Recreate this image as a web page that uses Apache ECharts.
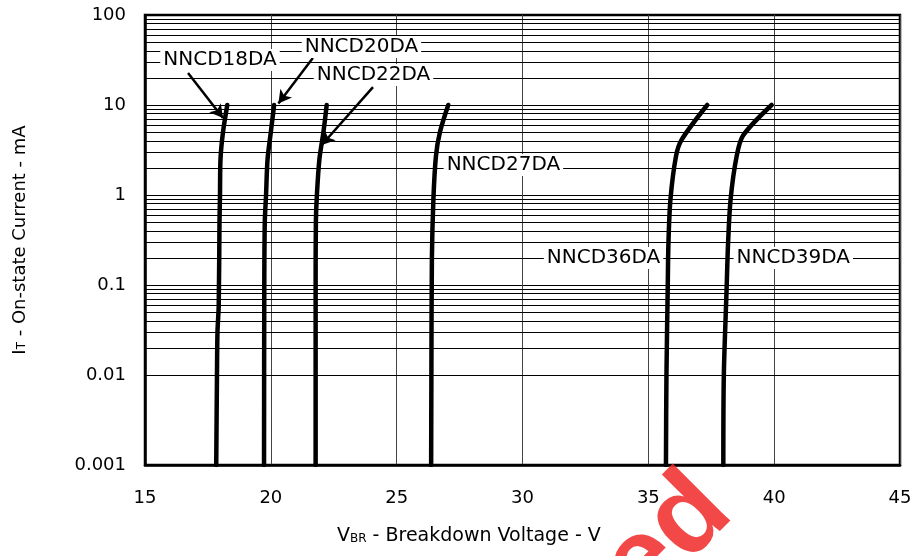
<!DOCTYPE html>
<html>
<head>
<meta charset="utf-8">
<script src="https://cdn.jsdelivr.net/npm/echarts@6/dist/echarts.min.js"></script>
<style>
  html, body { margin: 0; background: #fff; }
  #main { width: 916px; height: 556px; }
</style>
</head>
<body>
<div id="main"></div>
<script>
// breakdown curves, each point is [V, mA]
const nncd18 = [[17.83, 0.001], [17.86, 0.01], [17.88, 0.03], [17.93, 0.06], [17.96, 0.5], [17.98, 1], [18.0, 2.5], [18.1, 5], [18.27, 10]]
const nncd20 = [[19.73, 0.001], [19.74, 0.1], [19.76, 0.5], [19.81, 1], [19.87, 2.5], [20.0, 5], [20.13, 10]]
const nncd22 = [[21.78, 0.001], [21.78, 0.1], [21.79, 0.5], [21.83, 1], [21.93, 2.5], [22.09, 5], [22.22, 10]]
const nncd27 = [[26.37, 0.001], [26.38, 0.01], [26.4, 0.2], [26.46, 0.9], [26.56, 2.7], [26.72, 5], [27.05, 10]]
const nncd36 = [[35.7, 0.001], [35.72, 0.01], [35.77, 0.09], [35.8, 0.3], [35.88, 0.9], [36.1, 2.7], [36.32, 4.1], [37.34, 10]]
const nncd39 = [[37.98, 0.001], [38.0, 0.01], [38.11, 0.09], [38.17, 0.3], [38.27, 0.9], [38.51, 2.7], [38.77, 4.6], [39.9, 10]]

const partNames = ['NNCD18DA', 'NNCD20DA', 'NNCD22DA', 'NNCD27DA', 'NNCD36DA', 'NNCD39DA']
const curves = [nncd18, nncd20, nncd22, nncd27, nncd36, nncd39]

// where the part names sit, in chart units [V, mA]
const labelAt = [[17.98, 31.6], [23.6, 44], [24.08, 21.5], [29.24, 2.15], [33.22, 0.2], [40.76, 0.2]]
// arrows from a name to its curve: [from, to]
const arrows = [
    [[16.71, 22.7], [18.1, 7.17]],
    [[21.67, 33.3], [20.3, 10.4]],
    [[24.06, 15.8], [22.02, 3.59]]
]

const yTickLabels = ['0.001', '0.01', '0.1', '1', '10', '100']
const xTicks = { min: 15, max: 45, step: 5 }

// minor log grid lines 2..9 of each decade
let minorLines = []
for (let d = -3; d < 2; d++) {
    for (let k = 2; k <= 9; k++) minorLines.push({ yAxis: k * Math.pow(10, d) })
}

const font = 'DejaVu Sans'

var myChart = echarts.init(document.getElementById('main'))

let series = curves.map((c, i) => ({
    name: partNames[i],
    type: 'line',
    data: c,
    showSymbol: false,
    smooth: 0.3,
    z: 4,
    lineStyle: { color: '#000', width: 4.5, cap: 'round' }
}))

series.push({
    name: 'minor',
    type: 'line',
    data: [],
    silent: true,
    markLine: {
        silent: true,
        symbol: 'none',
        label: { show: false },
        lineStyle: { color: '#000', width: 1, type: 'solid' },
        emphasis: { disabled: true },
        data: minorLines
    }
})

series.push({
    name: 'names',
    type: 'scatter',
    symbolSize: 1,
    itemStyle: { color: 'rgba(0,0,0,0)', opacity: 1 },
    z: 5,
    data: labelAt.map((p, i) => ({ value: p, name: partNames[i] })),
    label: {
        show: true,
        position: 'inside',
        formatter: p => p.name,
        color: '#000',
        opacity: 1,
        textBorderWidth: 0,
        fontFamily: font,
        fontSize: 20,
        backgroundColor: '#fff',
        padding: [1, 3]
    },
    markLine: {
        silent: true,
        symbol: ['none', 'arrow'],
        symbolSize: [11, 13],
        label: { show: false },
        lineStyle: { color: '#000', width: 2.5, type: 'solid', opacity: 1 },
        data: arrows.map(a => [{ coord: a[0] }, { coord: a[1] }])
    }
})

var option = {
    animation: false,
    backgroundColor: '#fff',
    grid: {
        left: 145, right: 16, top: 15, bottom: 91,
        show: true, borderColor: '#000', borderWidth: 2.5
    },
    xAxis: {
        type: 'value',
        min: xTicks.min, max: xTicks.max, interval: xTicks.step,
        axisLine: { lineStyle: { color: '#000', width: 2.5 } },
        axisTick: { show: false },
        axisLabel: { color: '#000', fontFamily: font, fontSize: 18, margin: 24 },
        splitLine: { lineStyle: { color: '#444', width: 1 } }
    },
    yAxis: {
        type: 'log',
        logBase: 10,
        min: 0.001, max: 100,
        axisLine: { lineStyle: { color: '#000', width: 2.5 } },
        axisTick: { show: false },
        axisLabel: {
            color: '#000', fontFamily: font, fontSize: 18, margin: 19,
            formatter: v => yTickLabels[Math.round(Math.log10(v)) + 3]
        },
        splitLine: { lineStyle: { color: '#000', width: 1 } },
        name: '{m|I}{s|T}{m| - On-state Current - mA}',
        nameLocation: 'middle',
        nameGap: 116,
        nameTextStyle: {
            rich: {
                m: { fontFamily: font, fontSize: 18, color: '#000' },
                s: { fontFamily: font, fontSize: 12, color: '#000', verticalAlign: 'bottom', padding: [0, 0, 1, 0] }
            }
        }
    },
    graphic: [
        {
            type: 'text',
            left: 337,
            top: 527,
            style: {
                text: '{m|V}{s|BR}{m| - Breakdown Voltage - V}',
                rich: {
                    m: { fontFamily: font, fontSize: 19, fill: '#000' },
                    s: { fontFamily: font, fontSize: 12, fill: '#000', verticalAlign: 'bottom', padding: [0, 0, 1, 0] }
                }
            }
        },
        {
            type: 'text',
            x: 735, y: 526,
            rotation: Math.PI / 4,
            z: 100,
            silent: true,
            style: {
                text: 'Discontinued',
                x: 8, y: -38,
                align: 'right',
                verticalAlign: 'middle',
                fontFamily: 'Liberation Sans',
                fontWeight: 'bold',
                fontSize: 112,
                fill: 'rgba(240,40,40,0.85)'
            }
        }
    ],
    series: series
}

myChart.setOption(option)
</script>
</body>
</html>
